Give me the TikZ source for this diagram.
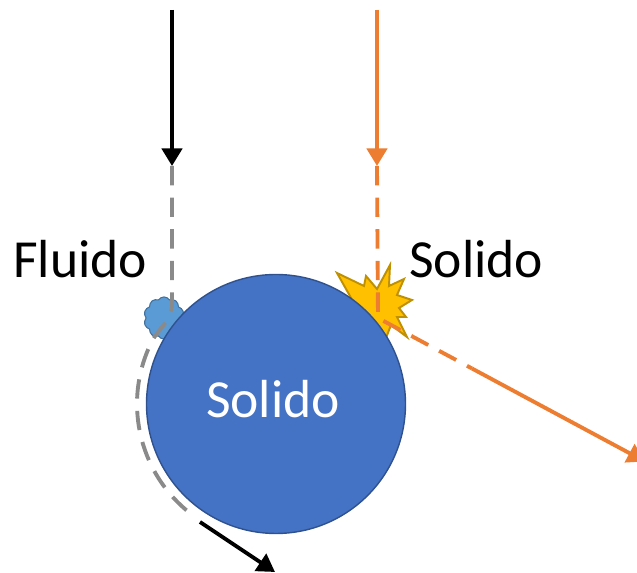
\documentclass[tikz,border=0pt]{standalone}
\usepackage{fontspec}
\setmainfont{Carlito}
\usetikzlibrary{arrows.meta,shapes.symbols}
\definecolor{ballblue}{HTML}{4472C4}
\definecolor{balledge}{HTML}{2F528F}
\definecolor{cloudblue}{HTML}{5B9BD5}
\definecolor{cloudedge}{HTML}{41719C}
\definecolor{burst}{HTML}{FFC000}
\definecolor{burstedge}{HTML}{BF9000}
\definecolor{ray}{HTML}{ED7D31}
\definecolor{path}{HTML}{8A8A8A}
\tikzset{
  lbl/.style={font=\fontsize{30.5}{36}\selectfont, inner sep=0pt},
  head/.style={-{Triangle[width=11.5pt,length=10pt]}},
  solidray/.style={line width=2.2pt},
  dashray/.style={line width=2.2pt, dash pattern=on 11pt off 7pt},
}
\begin{document}
\begin{tikzpicture}[x=0.02cm,y=-0.02cm]
\useasboundingbox (0,0) rectangle (637,573);

% impact burst on the upper right of the ball
\fill[burst, draw=burstedge, line width=1.1pt, line join=miter]
  (337,273) -- (364,286) -- (366,276) -- (377,289) -- (390,265) -- (389,286)
  -- (404,279) -- (397,295) -- (412,300) -- (399,308) -- (406,317) -- (397,317)
  -- (407,337) -- (391,325) -- (386,338) -- (370,330) -- (355,305) -- cycle;

% fluid layer on the upper left of the ball
\node[cloud, cloud puffs=10, cloud puff arc=115, aspect=1, fill=cloudblue,
      draw=cloudedge, line width=0.6pt, minimum width=23pt, minimum height=24pt,
      inner sep=0pt] (fluid) at (164,318) {};

% the ball
\node[circle, fill=ballblue, draw=balledge, line width=0.8pt,
      minimum size=147.4pt, inner sep=0pt] (ball) at (276,404) {};

% labels
\node[lbl, anchor=base west] (lfluid) at (13,278) {Fluido};
\node[lbl, anchor=base west] (lsolid) at (409,278) {Solido};
\node[lbl, anchor=base, text=white] (lball) at (273,418) {Solido};

% fluid stream: incoming, wrapping round the ball, leaving
\coordinate (bs) at (172,10);
\coordinate (bm) at (172,166);
\coordinate (bo) at (200,522);
\coordinate (be) at (275,572);
\draw[head, solidray, black] (bs) -- (bm);
\draw[dashray, path] (bm) -- (172,305)
  .. controls (171,320) and (160,328) .. (153.3,338.7)
  arc[start angle=-152, end angle=-232, radius=139];
\draw[head, solidray, black] (bo) -- (be);

% solid particle: incoming, bouncing off
\coordinate (os) at (377,10);
\coordinate (om) at (377,166);
\coordinate (oi) at (378,318);
\coordinate (od) at (472,368.5);
\coordinate (oe) at (645,461.5);
\draw[head, solidray, ray] (os) -- (om);
\draw[dashray, ray] (om) -- (oi) -- (od);
\draw[head, solidray, ray] (od) -- (oe);
\end{tikzpicture}
\end{document}
